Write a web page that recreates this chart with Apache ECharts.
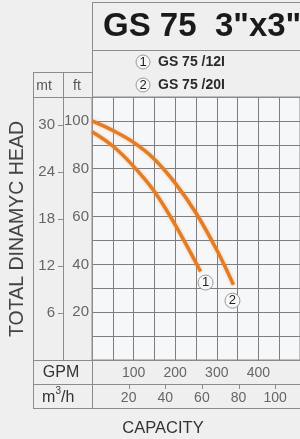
<!DOCTYPE html>
<html><head><meta charset="utf-8">
<script src="https://cdn.jsdelivr.net/npm/echarts@6/dist/echarts.min.js"></script>
<style>html,body{margin:0;padding:0;background:#efefef}#c{width:300px;height:439px}</style>
</head><body><div id="c"></div>
<script>
// ---- data ----
const titleText = 'GS 75  3"x3"';
const seriesNames = ['GS 75 /12I', 'GS 75 /20I'];
const seriesTags = ['1', '2'];
const gpmTicks = [100, 200, 300, 400];
const m3hTicks = [20, 40, 60, 80, 100];
const ftTicks = [20, 40, 60, 80, 100];
const mtTicks = [6, 12, 18, 24, 30];
const curve1Gpm = [0, 50, 100, 150, 200, 261];
const curve1Ft  = [95.5, 89.5, 81, 70.5, 56.5, 37];
const curve2Gpm = [0, 50, 100, 150, 200, 250, 300, 340];
const curve2Ft  = [100, 96, 91, 84, 74, 61.5, 46, 31.5];
const gpmMax = 500, ftMax = 110;
const GPM_PER_M3H = 4.40287, FT_PER_M = 3.28084;

const FONT = '"Liberation Sans", Arial, sans-serif';
const LINE = '#8c8c8c';
const ORANGE = '#e27d26';

function pairs(xs, ys) { return xs.map((x, i) => [x, ys[i]]); }
const curves = [pairs(curve1Gpm, curve1Ft), pairs(curve2Gpm, curve2Ft)];
const tagOffsets = [[5, 11], [-1, 16]];

const chart = echarts.init(document.getElementById('c'), null, {renderer: 'canvas'});

function hline(x1, x2, y) { return {type: 'line', silent: true, shape: {x1: x1, y1: y + 0.5, x2: x2, y2: y + 0.5}, style: {stroke: LINE, lineWidth: 1}}; }
function vline(x, y1, y2) { return {type: 'line', silent: true, shape: {x1: x + 0.5, y1: y1, x2: x + 0.5, y2: y2}, style: {stroke: LINE, lineWidth: 1}}; }
function txt(t, x, y, size, opts) {
  return {type: 'text', silent: true, x: x, y: y, rotation: (opts && opts.rot) || 0, z: 10,
    style: Object.assign({text: t, fontSize: size, fontFamily: FONT, fill: '#444', align: 'center', verticalAlign: 'middle'}, (opts && opts.style) || {})};
}

const option = {
  backgroundColor: '#efefef',
  animation: false,
  grid: {left: 92, top: 97, width: 213, height: 263, show: true, backgroundColor: '#f6f7f9', borderColor: LINE, borderWidth: 1},
  xAxis: [
    {type: 'value', min: 0, max: gpmMax, interval: 50, position: 'bottom',
     axisLine: {show: false}, axisTick: {show: false},
     splitLine: {show: true, lineStyle: {color: '#7e7e7e', width: 1}},
     axisLabel: {customValues: gpmTicks, margin: 6, fontSize: 14, color: '#666', fontFamily: FONT}},
    {type: 'value', min: 0, max: gpmMax / GPM_PER_M3H, interval: 20, position: 'bottom', offset: 24,
     axisLine: {show: false}, splitLine: {show: false}, axisTick: {show: false},
     axisLabel: {customValues: m3hTicks, margin: 7, fontSize: 14, color: '#666', fontFamily: FONT}}
  ],
  yAxis: [
    {type: 'value', min: 0, max: ftMax, interval: 10, position: 'left',
     axisLine: {show: false}, axisTick: {show: false},
     splitLine: {show: true, lineStyle: {color: '#7e7e7e', width: 1}},
     axisLabel: {customValues: ftTicks, margin: 3, fontSize: 15, color: '#666', fontFamily: FONT}},
    {type: 'value', min: 0, max: ftMax / FT_PER_M, interval: 6, position: 'left', offset: 29,
     axisLine: {show: false}, splitLine: {show: false}, axisTick: {show: false},
     axisLabel: {customValues: mtTicks, margin: 8, fontSize: 15, color: '#666', fontFamily: FONT}}
  ],
  series: curves.map((d, i) => ({
    type: 'line', name: seriesNames[i], data: d, xAxisIndex: 0, yAxisIndex: 0,
    smooth: 0.4, showSymbol: false, silent: true,
    lineStyle: {color: ORANGE, width: 3.5, shadowBlur: 3, shadowColor: 'rgba(240,150,70,0.6)'},
    markPoint: {silent: true, data: [{coord: d[d.length - 1], symbol: 'circle', symbolSize: 15, symbolOffset: tagOffsets[i],
      itemStyle: {color: '#f8f8f8', borderColor: '#999', borderWidth: 1},
      label: {show: true, formatter: seriesTags[i], color: '#222', fontSize: 13, fontFamily: FONT}}]}
  }))
};
chart.setOption(option);

const graphics = [
  vline(33, 72, 408), vline(63, 72, 360), vline(92, 2, 408),
  hline(92, 300, 2), hline(92, 300, 50), hline(33, 92, 72), hline(33, 300, 97),
  hline(33, 300, 360), hline(33, 300, 384), hline(33, 300, 408),
  txt(titleText, 103, 27, 33, {style: {align: 'left', fontWeight: 'bold', fill: '#1a1a1a'}}),
  txt('mt', 44, 86, 14, {style: {fill: '#555'}}),
  txt('ft', 77, 86, 14, {style: {fill: '#555'}}),
  txt('TOTAL DINAMYC HEAD', 18, 229, 19.5, {rot: Math.PI / 2, style: {fill: '#444'}}),
  txt('GPM', 61, 373, 16, {style: {fill: '#333'}}),
  txt('m', 42, 398, 16, {style: {align: 'left', fill: '#333'}}),
  txt('3', 55.5, 391, 10, {style: {align: 'left', fill: '#333'}}),
  txt('/h', 61, 398, 16, {style: {align: 'left', fill: '#333'}}),
  txt('CAPACITY', 163, 428, 16.5, {style: {fill: '#333'}})
];
// axis ticks placed through the library's own scales
mtTicks.forEach(v => {
  const y = Math.round(chart.convertToPixel({yAxisIndex: 1}, v));
  graphics.push(hline(58, 63, y));
});
m3hTicks.forEach(v => {
  const x = Math.round(chart.convertToPixel({xAxisIndex: 1}, v));
  graphics.push(vline(x, 384, 389));
});
seriesNames.forEach((n, i) => {
  const cy = i === 0 ? 62 : 85;
  graphics.push({type: 'circle', silent: true, shape: {cx: 143, cy: cy, r: 7}, style: {fill: '#f6f6f6', stroke: '#999', lineWidth: 1}});
  graphics.push(txt(seriesTags[i], 143, cy + 0.5, 13, {style: {fill: '#222'}}));
  graphics.push(txt(n, 158, cy, 14, {style: {align: 'left', fontWeight: 'bold', fill: '#2a2a2a'}}));
});
chart.setOption({graphic: graphics});
</script></body></html>
